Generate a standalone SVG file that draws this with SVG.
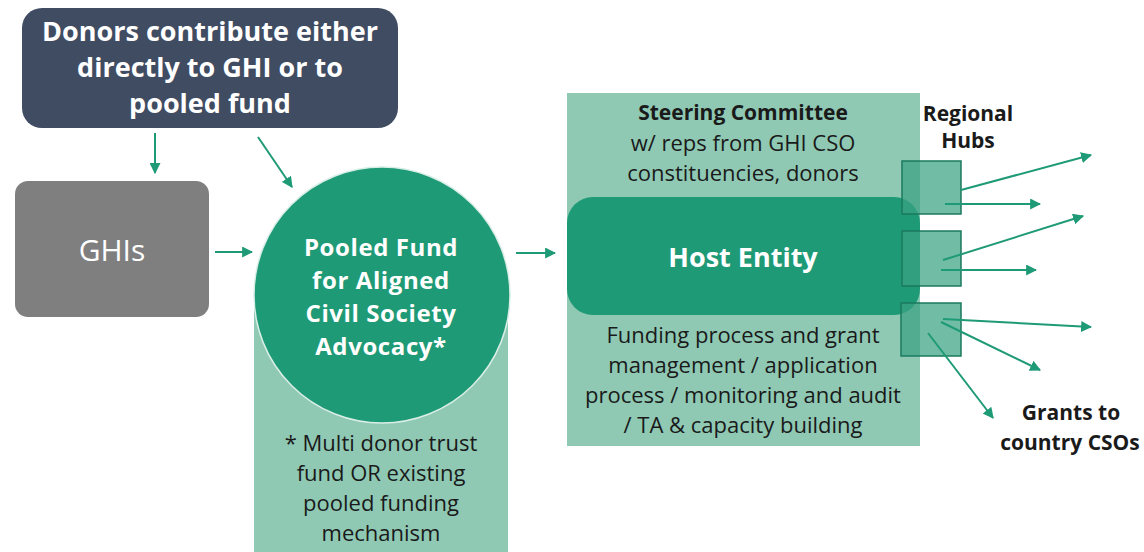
<svg xmlns="http://www.w3.org/2000/svg" width="1144" height="552" viewBox="0 0 1144 552">
<style>
.t{font-family:"Open Sans","Liberation Sans",sans-serif;text-anchor:middle}
.b{font-weight:bold}
.w{fill:#ffffff}
.k{fill:#1a1a1a}
.cc{letter-spacing:0.6px}
.c{stroke:#1f9a76;stroke-width:2;fill:none}
.hub{fill:#3aa282;fill-opacity:0.72;stroke:#1b7a5e;stroke-width:1.5}
</style>
<defs>
<marker id="ah" viewBox="0 0 10 10" refX="9" refY="5" markerWidth="5.5" markerHeight="5.5" orient="auto" markerUnits="strokeWidth">
<path d="M0,0 L10,5 L0,10 z" fill="#1f9a76"/>
</marker>
</defs>
<rect width="1144" height="552" fill="#ffffff"/>
<g id="donors">
<rect x="22" y="8" width="376" height="120" rx="20" fill="#3f4c62"/>
<text class="t b w" font-size="27" x="210" y="41">Donors contribute either</text>
<text class="t b w" font-size="27" x="210" y="77">directly to GHI or to</text>
<text class="t b w" font-size="27" x="210" y="113">pooled fund</text>
</g>
<g id="ghis">
<rect x="15" y="181" width="194" height="136" rx="13" fill="#7f7f7f"/>
<text class="t w" font-size="30" x="112" y="261">GHIs</text>
</g>
<g id="pooled-fund">
<rect x="254" y="300" width="254" height="252" fill="#8fc9b4"/>
<circle cx="382" cy="295" r="128" fill="#1f9a76" stroke="#d9eee6" stroke-width="1.5"/>
<text class="t b w cc" font-size="24" x="381" y="256">Pooled Fund</text>
<text class="t b w cc" font-size="24" x="381" y="289">for Aligned</text>
<text class="t b w cc" font-size="24" x="381" y="322">Civil Society</text>
<text class="t b w cc" font-size="24" x="381" y="355">Advocacy*</text>
<text class="t k" font-size="22" x="381" y="451">* Multi donor trust</text>
<text class="t k" font-size="22" x="381" y="481">fund OR existing</text>
<text class="t k" font-size="22" x="381" y="511">pooled funding</text>
<text class="t k" font-size="22" x="381" y="541">mechanism</text>
</g>
<g id="host">
<rect x="567" y="93" width="353" height="353" fill="#8fc9b4"/>
<text class="t b k" font-size="21" x="743" y="120">Steering Committee</text>
<text class="t k" font-size="22" x="743" y="151">w/ reps from GHI CSO</text>
<text class="t k" font-size="22" x="743" y="181">constituencies, donors</text>
<rect x="567" y="197" width="353" height="118" rx="26" fill="#1f9a76"/>
<text class="t b w" font-size="27" x="743" y="267">Host Entity</text>
<text class="t k" font-size="22" x="743" y="343">Funding process and grant</text>
<text class="t k" font-size="22" x="743" y="373">management / application</text>
<text class="t k" font-size="22" x="743" y="403">process / monitoring and audit</text>
<text class="t k" font-size="22" x="743" y="433">/ TA &amp; capacity building</text>
</g>
<g id="hubs">
<rect class="hub" x="902" y="161" width="59" height="53"/>
<rect class="hub" x="902" y="231" width="59" height="55"/>
<rect class="hub" x="901" y="303" width="60" height="53"/>
<text class="t b k" font-size="21" x="968" y="121">Regional</text>
<text class="t b k" font-size="21" x="968" y="148">Hubs</text>
</g>
<g id="grants">
<text class="t b k" font-size="21" x="1071" y="420">Grants to</text>
<text class="t b k" font-size="21" x="1070" y="450">country CSOs</text>
</g>
<g id="connectors">
<line class="c" x1="155" y1="133" x2="155" y2="173" marker-end="url(#ah)"/>
<line class="c" x1="258" y1="137" x2="292" y2="187" marker-end="url(#ah)"/>
<line class="c" x1="215" y1="252" x2="252" y2="252" marker-end="url(#ah)"/>
<line class="c" x1="516" y1="253" x2="555" y2="253" marker-end="url(#ah)"/>
<line class="c" x1="961" y1="190" x2="1091" y2="155" marker-end="url(#ah)"/>
<line class="c" x1="945" y1="204" x2="1040" y2="204" marker-end="url(#ah)"/>
<line class="c" x1="943" y1="260" x2="1083" y2="216" marker-end="url(#ah)"/>
<line class="c" x1="941" y1="270" x2="1036" y2="270" marker-end="url(#ah)"/>
<line class="c" x1="943" y1="319" x2="1091" y2="327" marker-end="url(#ah)"/>
<line class="c" x1="941" y1="322" x2="1040" y2="370" marker-end="url(#ah)"/>
<line class="c" x1="928" y1="333" x2="993" y2="418" marker-end="url(#ah)"/>
</g>
</svg>
